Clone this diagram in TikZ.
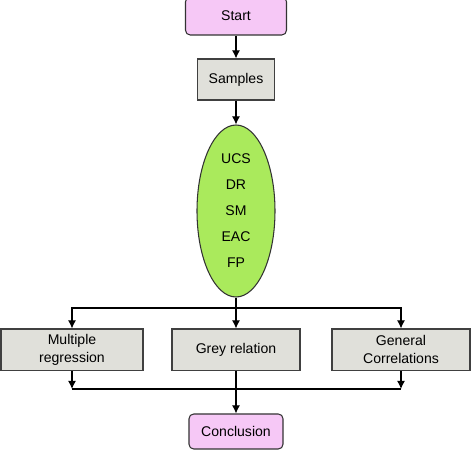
\documentclass[tikz,border=0pt]{standalone}
\usepackage{fontspec}
\setmainfont{Liberation Sans}
\usepackage{tikz}
\usetikzlibrary{arrows.meta, positioning, shapes.geometric}
\definecolor{rose}{RGB}{246,200,246}
\definecolor{vert}{RGB}{170,234,92}
\definecolor{gris}{RGB}{224,224,218}
\tikzstyle{fleche} = [-{Latex[length=7pt,width=7pt]},line width=1.1pt]
\tikzstyle{trait} = [line width=1.1pt]
\tikzstyle{debut} = [draw=black!80,fill=rose,rounded corners=4pt,line width=0.9pt]
\tikzstyle{boite} = [draw=black!75,fill=gris,line width=0.9pt,align=center]

\begin{document}
\begin{tikzpicture}[font=\fontsize{12}{15}\selectfont]
	\useasboundingbox (0,0) rectangle (14.22,13.53);

%% colonne du milieu
	\node[debut, minimum width=3.03cm, minimum height=1.14cm] (start) at (7.08,13.05) {Start};
	\node[boite, minimum width=2.31cm, minimum height=1.23cm] (samples) at (7.08,11.145) {Samples};
	\node[ellipse, draw=black!80, fill=vert, line width=0.9pt, inner sep=0pt,
		minimum width=2.34cm, minimum height=5.16cm, align=center,
		font=\fontsize{12}{22.2}\selectfont] (params) at (7.08,7.2)
		{UCS\\DR\\SM\\EAC\\FP};

	\draw[fleche] (start) -- (samples);
	\draw[fleche] (samples) -- (params);

%% les trois methodes
	\node[boite, minimum width=4.26cm, minimum height=1.245cm] (reg) at (2.16,3.0375) {Multiple\\regression};
	\node[boite, minimum width=3.84cm, minimum height=1.245cm] (grey) at (7.08,3.0375) {Grey relation};
	\node[boite, minimum width=4.14cm, minimum height=1.245cm] (corr) at (12.03,3.0375) {General\\Correlations};

	\coordinate (split) at (7.08,4.29);
	\draw[trait] (params) -- (split);
	\draw[fleche] (split) -| (reg);
	\draw[fleche] (split) -| (corr);
	\draw[fleche] (split) -- (grey);

%% conclusion
	\node[debut, minimum width=2.82cm, minimum height=1.05cm] (concl) at (7.08,0.585) {Conclusion};

	\coordinate (joinL) at (2.16,1.86);
	\coordinate (joinR) at (12.03,1.86);
	\draw[fleche] (reg) -- (joinL);
	\draw[fleche] (corr) -- (joinR);
	\draw[trait] (joinL) -- (joinR);
	\draw[fleche] (grey) -- (concl);

\end{tikzpicture}
\end{document}
